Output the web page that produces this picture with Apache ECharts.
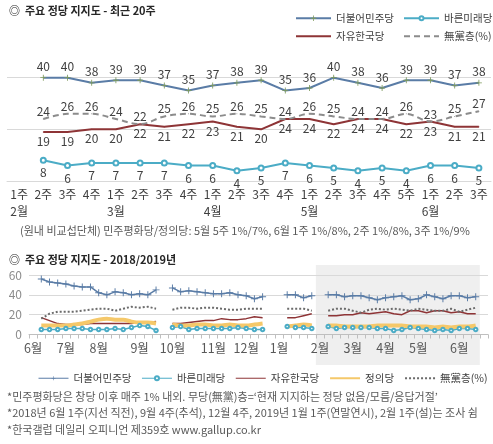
<!DOCTYPE html>
<html><head><meta charset="utf-8">
<script src="https://cdn.jsdelivr.net/npm/echarts@6/dist/echarts.min.js"></script>
<style>html,body{margin:0;padding:0;background:#fff}#c{width:493px;height:444px}</style>
</head><body><div id="c"></div>
<script>
// ---------- Chart 1: 최근 20주 ----------
const weeks20 = ['1주','2주','3주','4주','1주','2주','3주','4주','1주','2주','3주','4주','1주','2주','3주','4주','5주','1주','2주','3주'];
const months20 = ['2월','','','','3월','','','','4월','','','','5월','','','','','6월','',''];
const minjoo20 = [null,40,40,38,39,39,37,35,37,38,39,35,36,40,38,36,39,39,37,38];
const bareun20 = [null,8,6,7,7,7,7,6,6,4,5,7,6,5,4,5,4,6,6,5];
const jayu20   = [null,19,19,20,20,22,21,22,23,21,20,24,24,22,24,24,22,23,21,21];
const none20   = [null,24,26,26,24,22,25,26,25,26,25,24,26,25,24,24,26,23,25,27];

// ---------- Chart 2: 2018/2019년 (weekly) ----------
const months2 = ['6월','7월','8월','9월','10월','11월','12월','1월','2월','3월','4월','5월','6월'];
const weeksPerMonth2 = [4,4,5,4,5,4,4,5,4,4,4,5,4];
// 2018년 6월 1주 ~ 2019년 1월 5주 (then continues with the 20-week values above)
const minjooHist = [null,56,53,52,51,49,48,48,42,40,43,42,40,41,40,45,null,47,43,44,43,42,41,41,42,40,39,36,38,null,null,40,40,37,39];
const bareunHist = [null,5,5,5,6,6,6,5,5,5,6,5,7,9,8,4,null,7,8,5,6,6,6,6,6,7,6,5,5,null,null,8,7,7,6];
const jayuHist   = [null,17,14,11,10,10,10,11,11,11,11,11,11,12,12,13,null,11,11,12,13,14,14,16,15,15,16,18,17,null,null,17,17,19,21];
const noneHist   = [null,16,21,23,23,23,24,25,26,26,24,26,28,27,28,26,null,25,27,27,26,27,27,26,25,25,26,26,26,null,null,26,26,26,24];
const justiceAll = [null,9,9,9,9,10,11,13,15,16,15,15,13,12,12,11,null,10,9,9,10,10,9,9,10,9,9,10,11,null,null,8,9,10,9,
                    null,9,9,8,8,8,8,9,9,9,9,8,8,8,7,8,7,8,8,9,null];

const FONT = '"Noto Sans CJK KR","Noto Sans",sans-serif';
const C_MJ = '#5a7ca6', C_BR = '#4bacc6', C_JY = '#8e3436', C_JS = '#f5c86a', C_NO = '#8c8c8c', C_NO2 = '#6b6b6b';
const PLUS = 'path://M4.3,0H5.7V4.3H10V5.7H5.7V10H4.3V5.7H0V4.3H4.3Z';

const cats1 = weeks20.map((w,i)=>'w'+i);
const cats2 = [], labels2 = [];
months2.forEach((m,mi)=>{ for(let w=1;w<=weeksPerMonth2[mi];w++){ cats2.push(mi+'-'+w); labels2.push(w===1?m:''); } });

const minjoo2 = minjooHist.concat(minjoo20,[null]);
const bareun2 = bareunHist.concat(bareun20,[null]);
const jayu2   = jayuHist.concat(jayu20,[null]);
const none2   = noneHist.concat(none20,[null]);

const chart = echarts.init(document.getElementById('c'));
const lbl = (pos, dist) => ({show:true, position:pos, distance:dist, fontSize:12, color:'#404040', fontFamily:FONT});
const lgText = {fontSize:10.5, color:'#404040', fontFamily:FONT};

const option = {
  animation:false,
  textStyle:{fontFamily:FONT},
  title:[
    {text:'◎  주요 정당 지지도 - 최근 20주', left:4, top:0, textStyle:{fontSize:11, fontWeight:'bold', color:'#262626', fontFamily:FONT}},
    {text:'◎  주요 정당 지지도 - 2018/2019년', left:4, top:249, textStyle:{fontSize:11, fontWeight:'bold', color:'#262626', fontFamily:FONT}}
  ],
  legend:[
    {left:290, top:8, itemWidth:35, itemHeight:7, textStyle:lgText, data:[{name:'더불어민주당', itemStyle:{color:'#7e9a5c'}}]},
    {left:398, top:8, itemWidth:35, itemHeight:5, textStyle:lgText, data:[{name:'바른미래당', itemStyle:{borderWidth:1}}]},
    {left:290, top:26, itemWidth:35, itemHeight:7, textStyle:lgText, data:[{name:'자유한국당', itemStyle:{opacity:0}}]},
    {left:398, top:26, itemWidth:35, itemHeight:7, textStyle:lgText, data:[{name:'無黨층(%)', itemStyle:{opacity:0}}]},
    {left:33, top:368, itemWidth:30, itemHeight:5, itemGap:10, textStyle:lgText,
      data:[{name:'더불어민주당', itemStyle:{color:C_MJ}, lineStyle:{width:1}},
            {name:'바른미래당', itemStyle:{borderWidth:1}, lineStyle:{width:1}},
            {name:'자유한국당', itemStyle:{opacity:0}, lineStyle:{width:1}},
            {name:'정의당', itemStyle:{opacity:0}},
            {name:'無黨층(%)', itemStyle:{opacity:0}, lineStyle:{type:[2,2], width:2, color:C_NO2}}]}
  ],
  grid:[
    {left:7, top:26, width:484, height:155},
    {left:29, top:275, width:459, height:59.5}
  ],
  xAxis:[
    {type:'category', gridIndex:0, data:cats1, boundaryGap:true,
      axisLine:{lineStyle:{color:'#d9d9d9'}}, axisTick:{show:false},
      axisLabel:{interval:0, margin:5, fontSize:12, lineHeight:17, color:'#404040', fontFamily:FONT,
        formatter:(v,i)=> weeks20[i] + (months20[i] ? '\n'+months20[i] : '')}},
    {type:'category', gridIndex:1, data:cats2, boundaryGap:true,
      axisLine:{lineStyle:{color:'#bfbfbf'}}, axisTick:{show:true, interval:0, length:4, lineStyle:{color:'#bfbfbf'}},
      axisLabel:{interval:0, margin:7, fontSize:12.5, color:'#595959', fontFamily:FONT, formatter:(v,i)=>labels2[i]}}
  ],
  yAxis:[
    {type:'value', gridIndex:0, min:0, max:60, interval:20, axisLabel:{show:false}, axisLine:{show:false}, axisTick:{show:false},
      splitLine:{lineStyle:{color:['#d9d9d9','#d9d9d9','#d9d9d9','rgba(0,0,0,0)']}}},
    {type:'value', gridIndex:1, min:0, max:60, interval:20, axisLine:{show:false}, axisTick:{show:false},
      axisLabel:{fontSize:12, color:'#8c8c8c', margin:7, fontFamily:FONT},
      splitLine:{lineStyle:{color:'#d9d9d9'}}}
  ],
  series:[
    // chart 1
    {name:'더불어민주당', type:'line', xAxisIndex:0, yAxisIndex:0, data:minjoo20,
      symbol:PLUS, symbolSize:6, itemStyle:{color:'#7e9a5c'}, lineStyle:{color:C_MJ, width:2}, label:lbl('top',2)},
    {name:'바른미래당', type:'line', xAxisIndex:0, yAxisIndex:0, data:bareun20,
      symbol:'emptyCircle', symbolSize:5, itemStyle:{color:C_BR, borderWidth:1.2}, lineStyle:{color:C_BR, width:2}, label:lbl('bottom',3)},
    {name:'자유한국당', type:'line', xAxisIndex:0, yAxisIndex:0, data:jayu20,
      symbol:'circle', symbolSize:1, itemStyle:{color:C_JY}, lineStyle:{color:C_JY, width:2}, label:lbl('bottom',3)},
    {name:'無黨층(%)', type:'line', xAxisIndex:0, yAxisIndex:0, data:none20, smooth:0.35,
      symbol:'circle', symbolSize:1, itemStyle:{color:C_NO}, lineStyle:{color:C_NO, width:2, type:[6,4]}, label:lbl('top',1)},
    // chart 2
    {name:'더불어민주당', type:'line', xAxisIndex:1, yAxisIndex:1, data:minjoo2,
      symbol:PLUS, symbolSize:7, itemStyle:{color:C_MJ}, lineStyle:{color:C_MJ, width:1.5}},
    {name:'바른미래당', type:'line', xAxisIndex:1, yAxisIndex:1, data:bareun2,
      symbol:'emptyCircle', symbolSize:3.5, itemStyle:{color:C_BR, borderWidth:1}, lineStyle:{color:C_BR, width:1.5}},
    {name:'자유한국당', type:'line', xAxisIndex:1, yAxisIndex:1, data:jayu2,
      showSymbol:false, itemStyle:{color:C_JY}, lineStyle:{color:C_JY, width:1.5}},
    {name:'정의당', type:'line', xAxisIndex:1, yAxisIndex:1, data:justiceAll, smooth:0.3,
      showSymbol:false, itemStyle:{color:C_JS}, lineStyle:{color:C_JS, width:4}},
    {name:'無黨층(%)', type:'line', xAxisIndex:1, yAxisIndex:1, data:none2,
      showSymbol:false, itemStyle:{color:C_NO2}, lineStyle:{color:C_NO2, width:2, type:[2,2]}}
  ]
};
chart.setOption(option);

// shaded band for the recent 20 weeks in chart 2
const p35 = chart.convertToPixel({xAxisIndex:1}, cats2[35]);
const p36 = chart.convertToPixel({xAxisIndex:1}, cats2[36]);
const p54 = chart.convertToPixel({xAxisIndex:1}, cats2[54]);
const band = p36 - p35;
const noteFont = '11px ' + FONT;
chart.setOption({graphic:[
  {type:'rect', z:-10, silent:true, shape:{x:p35-band/2, y:265, width:(p54+band/2)-(p35-band/2), height:100}, style:{fill:'#efefef'}},
  {type:'text', x:20, y:231, style:{text:'(원내 비교섭단체) 민주평화당/정의당: 5월 5주 1%/7%, 6월 1주 1%/8%, 2주 1%/8%, 3주 1%/9%', font:noteFont, fill:'#595959', verticalAlign:'middle'}},
  {type:'text', x:7, y:397, style:{text:'*민주평화당은 창당 이후 매주 1% 내외. 무당(無黨)층=‘현재 지지하는 정당 없음/모름/응답거절’', font:noteFont, fill:'#595959', verticalAlign:'middle'}},
  {type:'text', x:7, y:413, style:{text:'*2018년 6월 1주(지선 직전), 9월 4주(추석), 12월 4주, 2019년 1월 1주(연말연시), 2월 1주(설)는 조사 쉼', font:noteFont, fill:'#595959', verticalAlign:'middle'}},
  {type:'text', x:7, y:430, style:{text:'*한국갤럽 데일리 오피니언 제359호 www.gallup.co.kr', font:noteFont, fill:'#595959', verticalAlign:'middle'}}
]});
</script></body></html>
